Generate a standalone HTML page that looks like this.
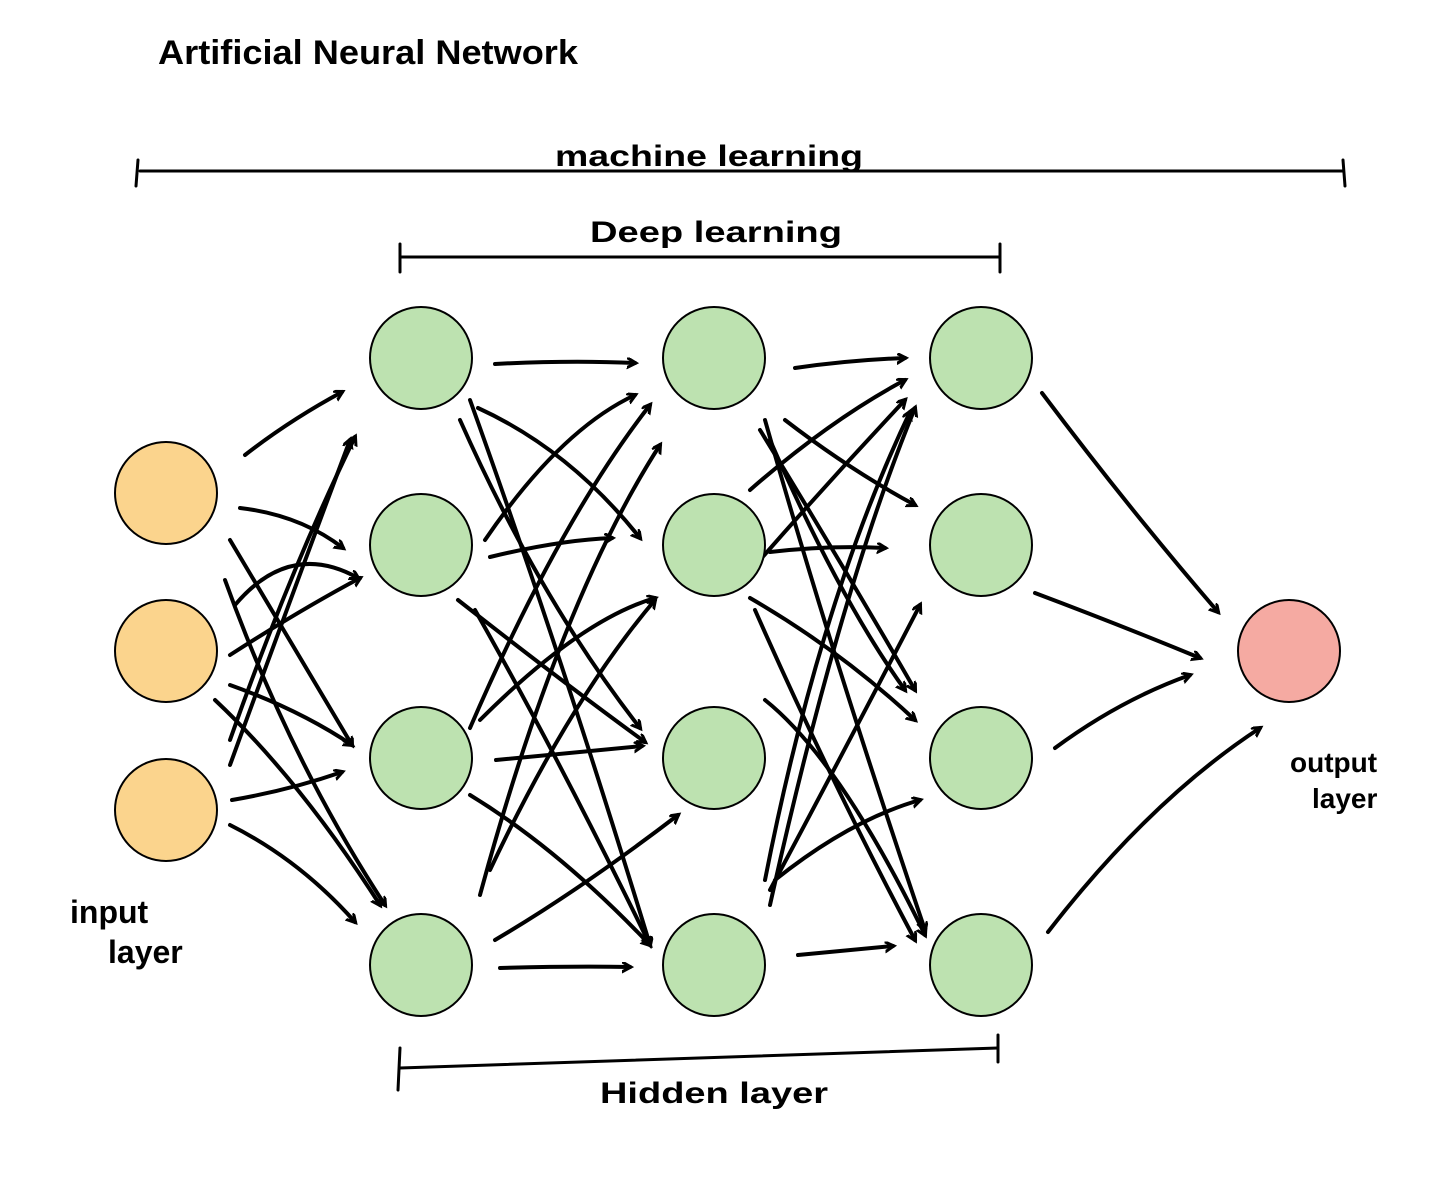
<!DOCTYPE html>
<html><head><meta charset="utf-8"><style>
html,body{margin:0;padding:0;background:#fff;}
svg{display:block}
text{font-family:"Liberation Sans Narrow","Liberation Sans",sans-serif;fill:#000;font-weight:bold}
</style></head><body>
<svg width="1456" height="1178" viewBox="0 0 1456 1178" xmlns="http://www.w3.org/2000/svg">
<defs>
<marker id="a" markerWidth="12" markerHeight="12" refX="8" refY="5" orient="auto" markerUnits="userSpaceOnUse">
<path d="M0,0 L9,5 L0,10" fill="none" stroke="#000" stroke-width="3" stroke-linecap="round"/>
</marker>
</defs>
<text x="158" y="64" font-size="34" textLength="420" lengthAdjust="spacingAndGlyphs">Artificial Neural Network</text>
<text x="555" y="166" font-size="30" textLength="308" lengthAdjust="spacingAndGlyphs">machine learning</text>
<text x="590" y="242" font-size="30" textLength="252" lengthAdjust="spacingAndGlyphs">Deep learning</text>
<text x="600" y="1103" font-size="30" textLength="228" lengthAdjust="spacingAndGlyphs">Hidden layer</text>
<text x="70" y="923" font-size="32">input</text>
<text x="108" y="963" font-size="32">layer</text>
<text x="1290" y="772" font-size="28">output</text>
<text x="1312" y="808" font-size="28">layer</text>
<g stroke="#000" stroke-width="3" fill="none" stroke-linecap="round">
<line x1="140" y1="171" x2="1343" y2="171"/>
<line x1="138" y1="160" x2="136" y2="186"/>
<line x1="1343" y1="160" x2="1345" y2="186"/>
<line x1="400" y1="257" x2="1000" y2="257"/>
<line x1="400" y1="244" x2="400" y2="272"/>
<line x1="1000" y1="244" x2="1000" y2="272"/>
<line x1="400" y1="1068" x2="998" y2="1048"/>
<line x1="400" y1="1048" x2="398" y2="1090"/>
<line x1="998" y1="1035" x2="998" y2="1062"/>
</g>
<g stroke="#000" stroke-width="4" fill="none" stroke-linecap="round" marker-end="url(#a)">
<path d="M245,455 Q290,420 342,392"/>
<path d="M240,508 Q300,515 343,548"/>
<path d="M230,540 Q290,640 352,745"/>
<path d="M225,580 Q290,760 385,905"/>
<path d="M230,765 Q290,600 350,440"/>
<path d="M230,655 Q300,610 360,578"/>
<path d="M230,685 Q300,710 352,745"/>
<path d="M215,700 Q300,780 380,905"/>
<path d="M230,740 Q290,570 355,437"/>
<path d="M232,800 Q290,790 342,772"/>
<path d="M230,825 Q300,860 355,922"/>
<path d="M235,605 Q290,540 358,578"/>
<path d="M495,364 Q570,360 635,363"/>
<path d="M478,408 Q570,450 640,538"/>
<path d="M460,420 Q540,600 640,728"/>
<path d="M470,400 Q560,650 650,945"/>
<path d="M485,540 Q560,430 635,395"/>
<path d="M490,557 Q560,540 612,538"/>
<path d="M458,600 Q560,680 645,742"/>
<path d="M475,610 Q560,760 650,945"/>
<path d="M470,728 Q560,520 650,405"/>
<path d="M480,720 Q580,620 655,598"/>
<path d="M496,760 Q580,752 642,746"/>
<path d="M470,795 Q560,850 650,945"/>
<path d="M480,895 Q560,600 660,445"/>
<path d="M490,870 Q570,700 655,600"/>
<path d="M495,940 Q580,890 678,815"/>
<path d="M500,968 Q570,966 630,967"/>
<path d="M795,368 Q850,360 905,358"/>
<path d="M785,420 Q850,470 915,505"/>
<path d="M760,430 Q840,560 915,690"/>
<path d="M765,420 Q830,650 925,930"/>
<path d="M750,490 Q830,420 905,380"/>
<path d="M770,552 Q830,545 885,548"/>
<path d="M750,598 Q840,650 915,720"/>
<path d="M755,610 Q830,780 915,940"/>
<path d="M765,880 Q820,600 910,412"/>
<path d="M770,905 Q840,590 915,408"/>
<path d="M770,890 Q850,740 920,605"/>
<path d="M775,880 Q850,820 920,800"/>
<path d="M798,955 Q850,950 893,946"/>
<path d="M760,560 Q830,480 905,400"/>
<path d="M770,440 Q840,600 905,690"/>
<path d="M765,700 Q840,760 925,935"/>
<path d="M1042,393 Q1130,510 1218,612"/>
<path d="M1035,593 Q1120,625 1200,658"/>
<path d="M1055,748 Q1120,700 1190,675"/>
<path d="M1048,932 Q1150,800 1260,728"/>
</g>
<g stroke="#000" stroke-width="2">
<circle cx="166" cy="493" r="51" fill="#fbd48d"/>
<circle cx="166" cy="651" r="51" fill="#fbd48d"/>
<circle cx="166" cy="810" r="51" fill="#fbd48d"/>
<circle cx="421" cy="358" r="51" fill="#bde2b0"/>
<circle cx="421" cy="545" r="51" fill="#bde2b0"/>
<circle cx="421" cy="758" r="51" fill="#bde2b0"/>
<circle cx="421" cy="965" r="51" fill="#bde2b0"/>
<circle cx="714" cy="358" r="51" fill="#bde2b0"/>
<circle cx="714" cy="545" r="51" fill="#bde2b0"/>
<circle cx="714" cy="758" r="51" fill="#bde2b0"/>
<circle cx="714" cy="965" r="51" fill="#bde2b0"/>
<circle cx="981" cy="358" r="51" fill="#bde2b0"/>
<circle cx="981" cy="545" r="51" fill="#bde2b0"/>
<circle cx="981" cy="758" r="51" fill="#bde2b0"/>
<circle cx="981" cy="965" r="51" fill="#bde2b0"/>
<circle cx="1289" cy="651" r="51" fill="#f5aaa2"/>
</g>
</svg>
</body></html>
